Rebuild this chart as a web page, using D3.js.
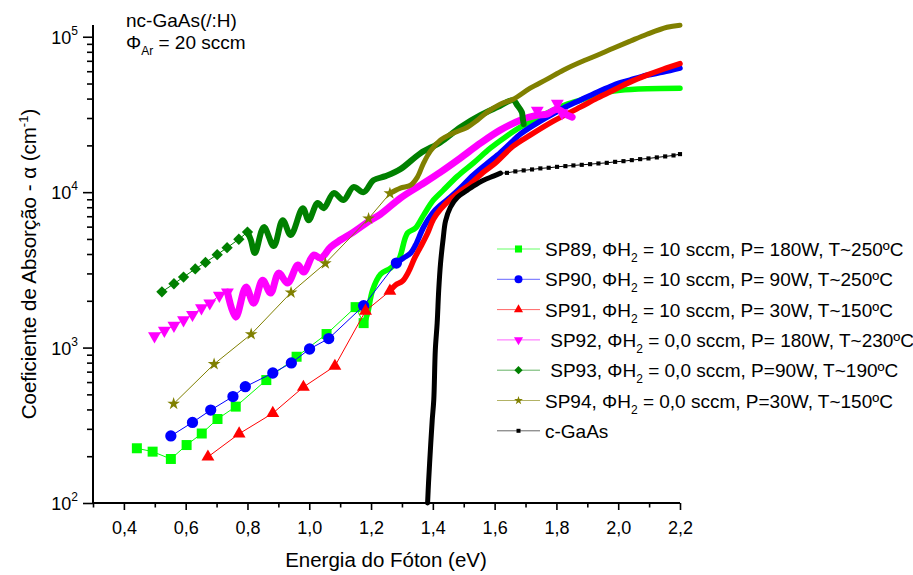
<!DOCTYPE html>
<html>
<head>
<meta charset="utf-8">
<script src="https://cdn.jsdelivr.net/npm/d3@7"></script>
<style>
  body { margin: 0; background: #fff; }
  text { font-family: "Liberation Sans", Arial, sans-serif; fill: #000; }
</style>
</head>
<body>
<svg id="chart" width="913" height="575"></svg>
<script>
// Series labels (legend), split around the subscript "2"
const seriesNames = ['SP89', 'SP90', 'SP91', 'SP92', 'SP93', 'SP94', 'c-GaAs'];
const legendHead = ['SP89, ΦH', 'SP90, ΦH', 'SP91, ΦH', ' SP92, ΦH', ' SP93, ΦH', 'SP94, ΦH', 'c-GaAs'];
const legendTail = [' = 10 sccm, P= 180W, T~250ºC', ' = 10 sccm, P= 90W, T~250ºC', ' = 10 sccm, P= 30W, T~150ºC',
  ' = 0,0 sccm, P= 180W, T~230ºC', ' = 0,0 sccm, P=90W, T~190ºC', ' = 0,0 sccm, P=30W, T~150ºC', ''];

// tick values
const xMajor = [0.4, 0.6, 0.8, 1.0, 1.2, 1.4, 1.6, 1.8, 2.0, 2.2];
const xMinor = [0.3, 0.5, 0.7, 0.9, 1.1, 1.3, 1.5, 1.7, 1.9, 2.1];
const yMajor = [1e2, 1e3, 1e4, 1e5];

// [energy (eV), alpha (cm-1)] -- markers = the few big symbols, dense = the many-point part
const sp89Markers = [[0.442,225],[0.493,214],[0.552,192],[0.603,236],[0.652,280],[0.703,347],[0.762,417],[0.861,618],[0.959,873],[1.056,1222],[1.150,1821],[1.176,1437]];
const sp89Dense = [[1.176,1396],[1.189,1667],[1.205,2344],[1.231,2972],[1.263,3247],[1.289,3656],[1.318,5456],[1.344,5875],[1.370,7116],[1.402,8890],[1.434,10300],[1.480,12680],[1.531,15380],[1.586,19190],[1.634,22590],[1.683,26180],[1.738,29920],[1.790,33730],[1.835,36810],[1.877,39080],[1.925,42070],[1.964,43950],[2.006,45290],[2.093,46340],[2.200,46670]];

const sp90Markers = [[0.552,270],[0.622,330],[0.681,396],[0.753,484],[0.793,560],[0.882,686],[0.942,796],[1.001,979],[1.063,1143],[1.176,1858],[1.282,3499]];
const sp90Dense = [[1.282,3499],[1.305,3767],[1.328,4055],[1.344,4560],[1.370,5957],[1.399,7328],[1.425,8255],[1.457,9290],[1.489,10620],[1.531,12880],[1.577,15380],[1.609,17300],[1.651,20650],[1.683,23600],[1.732,27400],[1.770,30400],[1.822,34700],[1.877,39080],[1.932,43950],[1.984,48750],[2.038,52600],[2.093,56600],[2.145,59200],[2.200,62800]];

const sp91Markers = [[0.672,198],[0.773,279],[0.882,378],[0.981,557],[1.083,760],[1.182,1718],[1.261,2311]];
const sp91Dense = [[1.261,2311],[1.279,2523],[1.302,2679],[1.321,3062],[1.341,3767],[1.360,4436],[1.383,5456],[1.402,6714],[1.425,7780],[1.457,9016],[1.489,10160],[1.521,11270],[1.564,13460],[1.602,15380],[1.660,19770],[1.715,23280],[1.790,28640],[1.877,35240],[1.932,40270],[1.984,45290],[2.038,51050],[2.093,56600],[2.145,61800],[2.200,67100]];

const sp92Markers = [[0.499,1186],[0.531,1288],[0.562,1387],[0.593,1503],[0.622,1630],[0.651,1795],[0.678,1932],[0.709,2163],[0.735,2275]];
const sp92Dense = [[0.735,2275],[0.762,1570],[0.795,2449],[0.820,1932],[0.849,2716],[0.875,2244],[0.901,3013],[0.930,2600],[0.963,3396],[0.982,3062],[1.014,3936],[1.037,3767],[1.069,4436],[1.101,4920],[1.143,5534],[1.189,6412],[1.231,7228],[1.295,9162],[1.360,11090],[1.425,13460],[1.489,16560],[1.554,20650],[1.618,25060],[1.683,29040],[1.738,31300],[1.770,31770],[1.803,34200],[1.835,31300],[1.851,30410]];
const sp92Stray = [[1.803,37200],[1.738,33500],[1.818,32300]];

const sp93Markers = [[0.523,2285],[0.562,2575],[0.593,2843],[0.631,3206],[0.664,3532],[0.702,3963],[0.734,4395],[0.772,4977],[0.800,5534]];
const sp93Dense = [[0.800,5534],[0.811,4920],[0.824,4055],[0.853,5957],[0.885,4498],[0.914,6607],[0.940,5297],[0.979,7889],[0.998,6607],[1.027,8511],[1.047,7889],[1.079,9860],[1.111,8890],[1.143,10770],[1.176,10000],[1.208,11950],[1.247,12680],[1.295,14060],[1.360,17820],[1.425,20970],[1.489,26180],[1.554,31300],[1.609,35240],[1.660,39080],[1.673,36310],[1.688,32730],[1.691,29920],[1.694,27400]];

const sp94Markers = [[0.561,435],[0.692,783],[0.812,1219],[0.941,2259],[1.052,3483],[1.192,6761],[1.261,9817]];
const sp94Dense = [[1.261,9817],[1.295,10620],[1.328,11090],[1.350,12500],[1.370,15380],[1.392,18370],[1.425,21630],[1.467,23990],[1.512,26180],[1.544,29040],[1.576,32730],[1.618,36810],[1.660,39630],[1.715,46670],[1.770,53330],[1.822,60950],[1.877,68550],[1.932,76030],[1.984,84330],[2.038,93550],[2.093,103800],[2.158,115100],[2.200,118600]];

const cgaasDense = [[1.383,100],[1.386,134],[1.392,219],[1.398,342],[1.403,460],[1.408,964],[1.414,1439],[1.419,2344],[1.425,3499],[1.434,5140],[1.441,6516],[1.457,8017],[1.480,9290],[1.512,10300],[1.531,10940],[1.564,11950],[1.596,12680],[1.619,13260]];
const cgaasMarkers = [[1.640,13310],[1.667,13600],[1.694,13800],[1.721,14000],[1.748,14220],[1.775,14350],[1.802,14550],[1.829,14710],[1.855,14860],[1.882,14990],[1.909,15140],[1.936,15300],[1.963,15440],[1.990,15670],[2.017,15830],[2.044,16070],[2.071,16310],[2.098,16480],[2.125,16730],[2.152,16980],[2.179,17230],[2.200,17570]];

// styles per series (same order as seriesNames)
const series = [
  { color: '#00ff00', sym: d3.symbolSquare, size: 100, rot: 0, lsize: 50, markers: sp89Markers, dense: sp89Dense, width: 5.5 },
  { color: '#0000ff', sym: d3.symbolCircle, size: 100, rot: 0, lsize: 50, markers: sp90Markers, dense: sp90Dense, width: 5.5 },
  { color: '#ff0000', sym: d3.symbolTriangle, size: 72, rot: 0, lsize: 36, markers: sp91Markers, dense: sp91Dense, width: 5.5 },
  { color: '#ff00ff', sym: d3.symbolTriangle, size: 72, rot: 180, lsize: 36, markers: sp92Markers, dense: sp92Dense, width: 7, stray: sp92Stray },
  { color: '#008000', sym: d3.symbolSquare, size: 64, rot: 45, lsize: 34, markers: sp93Markers, dense: sp93Dense, width: 6 },
  { color: '#808000', sym: d3.symbolStar, size: 50, rot: 0, lsize: 24, markers: sp94Markers, dense: sp94Dense, width: 5 },
  { color: '#000000', sym: d3.symbolSquare, size: 17, rot: 0, lsize: 16, markers: cgaasMarkers, dense: cgaasDense, width: 5 }
];

const svg = d3.select('#chart');
const x = d3.scaleLinear().domain([0.3, 2.2]).range([93, 680]);
const y = d3.scaleLog().domain([100, 119000]).range([503, 25]);

// minor log ticks
const yMinor = [];
[100, 1000, 10000].forEach(b => { for (let k = 2; k <= 9; k++) yMinor.push(b * k); });

// axes
const xg = svg.append('g').attr('transform', 'translate(0,503)');
xg.append('g').call(d3.axisBottom(x).tickValues(xMinor).tickFormat('').tickSizeInner(4.5).tickSizeOuter(0))
  .call(g => g.select('.domain').remove());
xg.append('g').call(d3.axisBottom(x).tickValues(xMajor).tickSizeInner(7).tickSizeOuter(0)
  .tickFormat(d => d.toFixed(1).replace('.', ',')))
  .call(g => g.select('.domain').attr('stroke-width', 2).attr('d', 'M93,0H680'))
  .call(g => g.selectAll('text').attr('dy', null).attr('y', 30.5).attr('font-size', 18).attr('font-family', 'Liberation Sans, Arial, sans-serif'));
xg.selectAll('.tick line').attr('stroke-width', 1.6);

const yg = svg.append('g').attr('transform', 'translate(93,0)');
yg.append('g').call(d3.axisLeft(y).tickValues(yMinor).tickFormat('').tickSizeInner(6).tickSizeOuter(0))
  .call(g => g.select('.domain').remove());
yg.append('g').call(d3.axisLeft(y).tickValues(yMajor).tickSizeInner(10).tickPadding(5).tickSizeOuter(0).tickFormat(''))
  .call(g => g.select('.domain').attr('stroke-width', 2).attr('d', 'M0,25V503'))
  .call(g => g.selectAll('.tick text').each(function (d) {
    const t = d3.select(this).attr('dy', null).attr('y', 6.5).attr('font-size', 18)
      .attr('font-family', 'Liberation Sans, Arial, sans-serif');
    t.append('tspan').text('10');
    t.append('tspan').attr('dy', -9).attr('font-size', 12).text(Math.round(Math.log10(d)));
  }));
yg.selectAll('.tick line').attr('stroke-width', 1.6);

// series
const thin = d3.line().x(d => x(d[0])).y(d => y(d[1]));
const thick = d3.line().x(d => x(d[0])).y(d => y(d[1])).curve(d3.curveCatmullRom.alpha(0.5));
const symbolPath = (s, size) => d3.symbol().type(s.sym).size(size)();

series.forEach((s, i) => {
  const g = svg.append('g');
  const all = s.markers.concat(s.dense).sort((a, b) => a[0] - b[0]);
  g.append('path').attr('d', thin(i === 6 ? all : s.markers.concat(s.dense.slice(0, 1))))
    .attr('fill', 'none').attr('stroke', s.color).attr('stroke-width', 1);
  g.append('path').attr('d', thick(s.dense))
    .attr('fill', 'none').attr('stroke', s.color).attr('stroke-width', s.width)
    .attr('stroke-linejoin', 'round').attr('stroke-linecap', 'round');
  g.selectAll('.m').data(s.markers.concat(s.stray || [])).enter().append('path')
    .attr('d', symbolPath(s, s.size))
    .attr('transform', d => `translate(${x(d[0])},${y(d[1])}) rotate(${s.rot})`)
    .attr('fill', s.color);
});

// legend
const lg = svg.append('g');
series.forEach((s, i) => {
  const cy = 249 + i * 30.3;
  lg.append('line').attr('x1', 497).attr('x2', 540).attr('y1', cy).attr('y2', cy)
    .attr('stroke', s.color).attr('stroke-width', 1).attr('opacity', 0.6);
  lg.append('path').attr('d', symbolPath(s, s.lsize))
    .attr('transform', `translate(518.5,${cy}) rotate(${s.rot})`).attr('fill', s.color);
  const t = lg.append('text').attr('x', 545).attr('y', cy + 7).attr('font-size', 19)
    .style('white-space', 'pre');
  t.append('tspan').text(legendHead[i]);
  if (legendTail[i]) {
    t.append('tspan').attr('dy', 6).attr('font-size', 12).text('2');
    t.append('tspan').attr('dy', -6).text(legendTail[i]);
  }
});

// annotation
svg.append('text').attr('x', 126).attr('y', 26.5).attr('font-size', 19).text('nc-GaAs(/:H)');
const ann = svg.append('text').attr('x', 126).attr('y', 49).attr('font-size', 19);
ann.append('tspan').text('Φ');
ann.append('tspan').attr('dy', 6).attr('font-size', 12).text('Ar');
ann.append('tspan').attr('dy', -6).text(' = 20 sccm').style('white-space', 'pre');

// axis titles
svg.append('text').attr('x', 386).attr('y', 567).attr('font-size', 20.5).attr('text-anchor', 'middle')
  .text('Energia do Fóton (eV)');
const yt = svg.append('text').attr('transform', 'translate(36,264) rotate(-90)')
  .attr('font-size', 20.5).attr('text-anchor', 'middle');
yt.append('tspan').text('Coeficiente de Absorção - α (cm');
yt.append('tspan').attr('dy', -8).attr('font-size', 13).text('-1');
yt.append('tspan').attr('dy', 8).text(')');
</script>
</body>
</html>
